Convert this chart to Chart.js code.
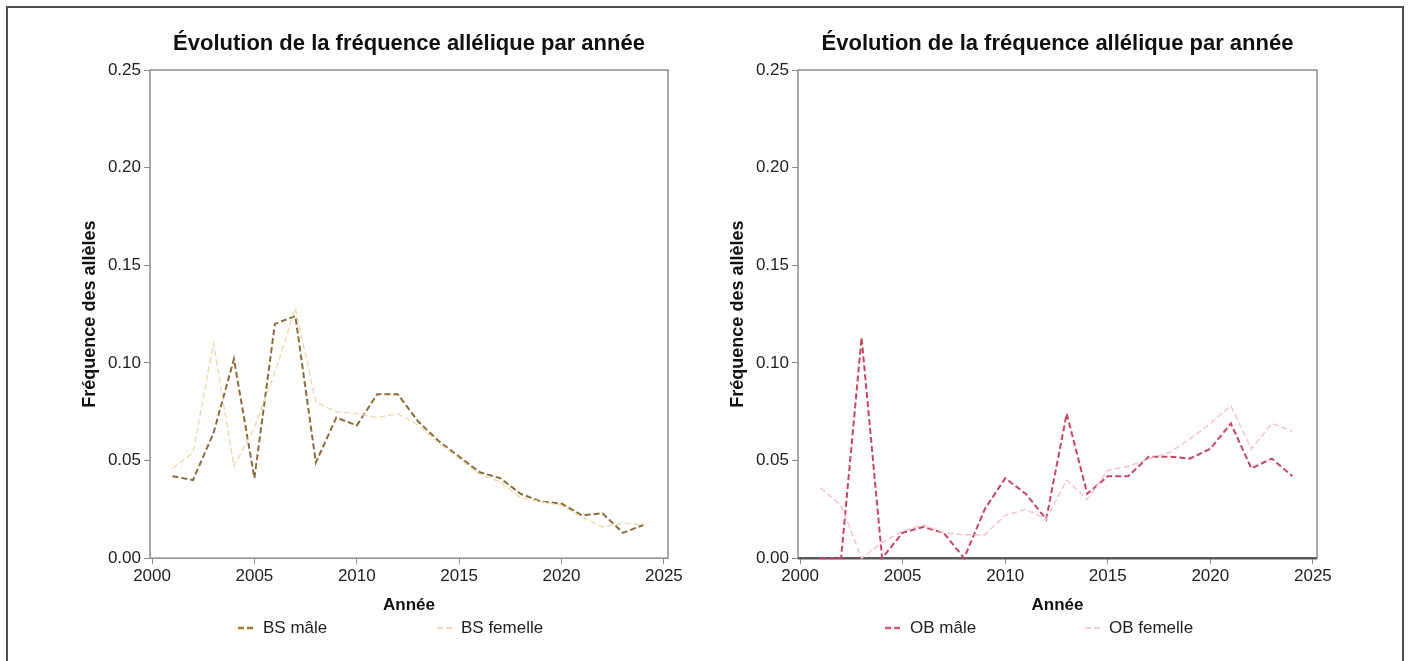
<!DOCTYPE html>
<html lang="fr">
<head>
<meta charset="utf-8">
<script src="https://cdn.jsdelivr.net/npm/chart.js@4.4.1/dist/chart.umd.min.js"></script>
<style>
  html, body { margin: 0; padding: 0; background: #fff; overflow: hidden; }
  body { width: 1408px; height: 661px; position: relative; font-family: 'Liberation Sans', Arial, sans-serif; }
  .frame { position: absolute; left: 6px; top: 6px; width: 1398px; height: 720px; border: 2px solid #4d4d4d; box-sizing: border-box; }
  canvas { position: absolute; top: 0; }
  .item { position: absolute; top: 618px; height: 20px; line-height: 20px; font-size: 17px; color: #222; white-space: nowrap; }
  .item svg { position: absolute; left: 0; top: 8px; }
  .item b { position: absolute; font-weight: normal; }
</style>
</head>
<body>
<div class="frame"></div>
<canvas id="chartBS" width="704" height="661" style="left:0"></canvas>
<canvas id="chartOB" width="704" height="661" style="left:704px"></canvas>

<div class="item" style="left:238px"><svg width="18" height="4"><line x1="0" y1="2" x2="18" y2="2" stroke="#a57a30" stroke-width="2.5" stroke-dasharray="6,3"/></svg><b style="left:25px">BS mâle</b></div>
<div class="item" style="left:437px"><svg width="18" height="4"><line x1="0" y1="2" x2="18" y2="2" stroke="#e6cf9c" stroke-width="1.5" stroke-dasharray="6,3"/></svg><b style="left:24px">BS femelle</b></div>
<div class="item" style="left:885px"><svg width="18" height="4"><line x1="0" y1="2" x2="18" y2="2" stroke="#d45a74" stroke-width="2.5" stroke-dasharray="6,3"/></svg><b style="left:25px">OB mâle</b></div>
<div class="item" style="left:1085px"><svg width="18" height="4"><line x1="0" y1="2" x2="18" y2="2" stroke="#f6b9c6" stroke-width="1.5" stroke-dasharray="6,3"/></svg><b style="left:24px">OB femelle</b></div>

<script>
const years = [2001, 2002, 2003, 2004, 2005, 2006, 2007, 2008, 2009, 2010, 2011, 2012,
               2013, 2014, 2015, 2016, 2017, 2018, 2019, 2020, 2021, 2022, 2023, 2024];
const bsMale = [0.042, 0.040, 0.064, 0.102, 0.041, 0.120, 0.124, 0.049, 0.072, 0.068, 0.084, 0.084,
                0.070, 0.060, 0.052, 0.044, 0.041, 0.033, 0.029, 0.028, 0.022, 0.023, 0.013, 0.017];
const bsFemale = [0.046, 0.054, 0.110, 0.047, 0.067, 0.095, 0.128, 0.080, 0.075, 0.074, 0.072, 0.074,
                  0.068, 0.059, 0.051, 0.043, 0.039, 0.031, 0.029, 0.027, 0.021, 0.016, 0.018, 0.017];
const obMale = [0, 0, 0.113, 0, 0.013, 0.016, 0.013, 0, 0.025, 0.041, 0.033, 0.020,
                0.074, 0.033, 0.042, 0.042, 0.052, 0.052, 0.051, 0.056, 0.069, 0.046, 0.051, 0.042];
const obFemale = [0.036, 0.027, 0, 0.008, 0.014, 0.017, 0.013, 0.012, 0.012, 0.022, 0.025, 0.020,
                  0.040, 0.030, 0.045, 0.047, 0.051, 0.054, 0.061, 0.069, 0.078, 0.056, 0.069, 0.065];
const xTicks = [2000, 2005, 2010, 2015, 2020, 2025];
const yTicks = [0, 0.05, 0.10, 0.15, 0.20, 0.25];
const chartTitle = 'Évolution de la fréquence allélique par année';
const xTitle = 'Année';
const yTitle = 'Fréquence des allèles';

const FONT = "'Liberation Sans', Arial, sans-serif";

// box around the plot area (top and right sides too)
const frameBox = {
  id: 'frameBox',
  beforeDatasetsDraw(chart, args, opts) {
    const a = chart.chartArea;
    const ctx = chart.ctx;
    ctx.save();
    ctx.strokeStyle = '#8c8c8c';
    ctx.lineWidth = 1.5;
    ctx.strokeRect(a.left, a.top, a.right - a.left, a.bottom - a.top);
    if (opts.darkBase) {
      ctx.strokeStyle = '#5a5a5a';
      ctx.lineWidth = 2.5;
      ctx.beginPath();
      ctx.moveTo(a.left, a.bottom);
      ctx.lineTo(a.right, a.bottom);
      ctx.stroke();
    }
    ctx.restore();
  }
};

function pts(vals) {
  return years.map((yr, i) => ({ x: yr, y: vals[i] }));
}

function makeChart(id, maleVals, femaleVals, maleColor, femaleColor, padLeft, padRight, darkBase) {
  return new Chart(document.getElementById(id), {
    type: 'line',
    data: {
      datasets: [{
        data: pts(femaleVals),
        borderColor: femaleColor,
        borderWidth: 1.3,
        borderDash: [6, 3],
        pointRadius: 0,
        tension: 0,
        clip: 4
      }, {
        data: pts(maleVals),
        borderColor: maleColor,
        borderWidth: 2,
        borderDash: [6, 3],
        pointRadius: 0,
        tension: 0,
        clip: 4
      }]
    },
    plugins: [frameBox],
    options: {
      responsive: false,
      animation: false,
      layout: { padding: { left: padLeft, right: padRight, top: 0, bottom: 41 } },
      plugins: {
        legend: { display: false },
        tooltip: { enabled: false },
        frameBox: { darkBase: darkBase },
        title: {
          display: true,
          text: chartTitle,
          fullSize: false,
          color: '#111',
          font: { family: FONT, size: 22, weight: 'bold' },
          padding: { top: 30.8, bottom: 12.8 }
        }
      },
      scales: {
        x: {
          type: 'linear',
          min: 1999.9,
          max: 2025.2,
          afterBuildTicks: (axis) => { axis.ticks = xTicks.map(v => ({ value: v })); },
          ticks: {
            color: '#222',
            padding: 2,
            maxRotation: 0,
            font: { family: FONT, size: 17 },
            callback: (v) => String(v)
          },
          grid: { drawOnChartArea: false, drawTicks: true, tickLength: 6, color: '#8c8c8c' },
          border: { display: false },
          title: {
            display: true,
            text: xTitle,
            color: '#111',
            font: { family: FONT, size: 17, weight: 'bold' },
            padding: { top: 7, bottom: 4 }
          }
        },
        y: {
          min: 0,
          max: 0.25,
          afterBuildTicks: (axis) => { axis.ticks = yTicks.map(v => ({ value: v })); },
          afterFit: (scale) => { scale.width = 75; },
          ticks: {
            color: '#222',
            padding: 3,
            font: { family: FONT, size: 17 },
            callback: (v) => Number(v).toFixed(2)
          },
          grid: { drawOnChartArea: false, drawTicks: true, tickLength: 6, color: '#8c8c8c' },
          border: { display: false },
          title: {
            display: true,
            text: yTitle,
            color: '#111',
            font: { family: FONT, size: 18, weight: 'bold' },
            padding: { top: 4, bottom: 4 }
          }
        }
      }
    }
  });
}

makeChart('chartBS', bsMale, bsFemale, 'rgb(140, 108, 58)', 'rgb(236, 216, 168)', 75, 36, false);
makeChart('chartOB', obMale, obFemale, 'rgb(196, 72, 100)', 'rgb(248, 188, 200)', 19, 91, true);
</script>
</body>
</html>
